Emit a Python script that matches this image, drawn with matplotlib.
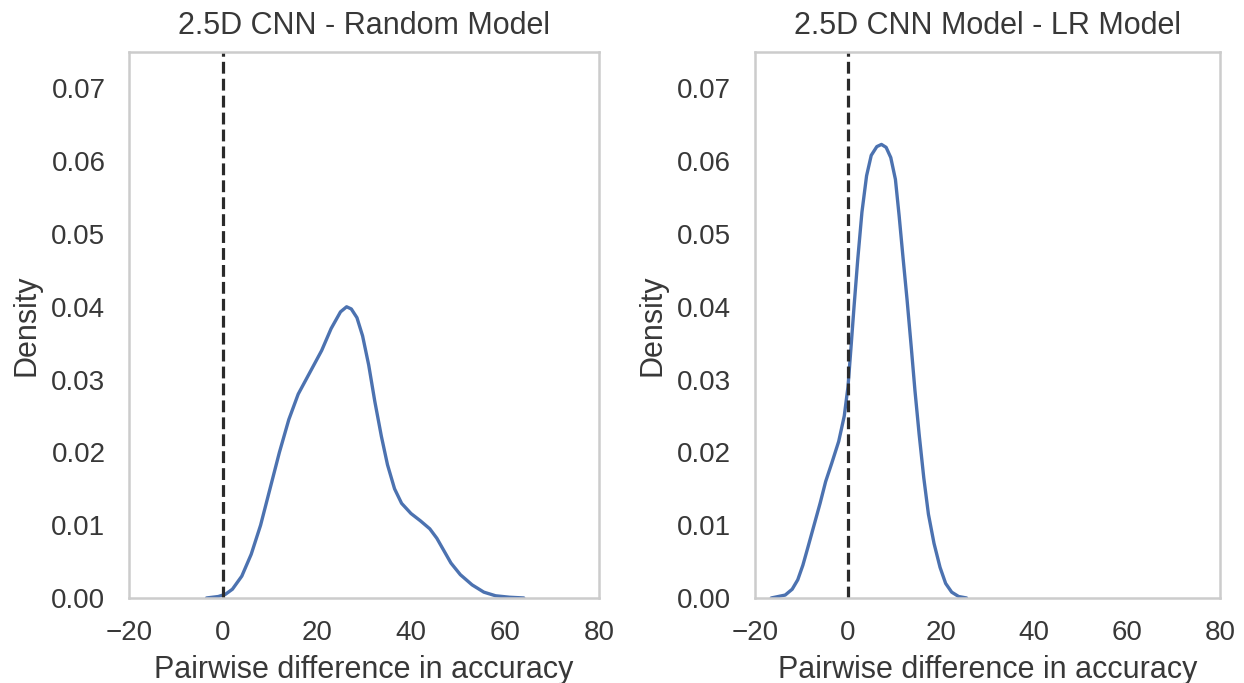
import matplotlib
matplotlib.use("Agg")
import matplotlib.pyplot as plt
import seaborn as sns

# KDE curves (x = pairwise difference, y = density)
random_x = [-3.5, -1.0, 0.5, 2.0, 4.0, 6.0, 8.0, 10.0, 12.0, 14.0, 16.0, 18.5,
            21.0, 23.0, 25.0, 26.3, 27.3, 28.5, 29.7, 31.0, 32.3, 33.7, 35.0,
            36.5, 38.0, 40.0, 42.0, 44.0, 45.5, 47.0, 48.5, 50.5, 53.0, 55.5,
            58.0, 61.0, 64.0]
random_y = [0.0000, 0.0002, 0.0005, 0.0012, 0.0030, 0.0060, 0.0100, 0.0150,
            0.0200, 0.0245, 0.0280, 0.0310, 0.0340, 0.0370, 0.0393, 0.0400,
            0.0397, 0.0385, 0.0360, 0.0320, 0.0270, 0.0222, 0.0183, 0.0150,
            0.0130, 0.0116, 0.0106, 0.0095, 0.0082, 0.0065, 0.0048, 0.0032,
            0.0018, 0.0008, 0.0003, 0.0001, 0.0000]

lr_x = [-16.5, -13.5, -12.0, -10.8, -9.7, -8.6, -7.3, -6.0, -4.8, -3.5, -2.0,
        -0.8, 0.0, 0.6, 1.3, 2.1, 3.0, 4.0, 5.0, 6.2, 7.2, 8.2, 9.2, 10.2,
        11.0, 11.8, 12.7, 13.6, 14.4, 15.3, 16.3, 17.3, 18.5, 19.8, 21.0,
        22.3, 23.8, 25.5]
lr_y = [0.0000, 0.0004, 0.0012, 0.0025, 0.0045, 0.0070, 0.0100, 0.0130, 0.0160,
        0.0185, 0.0215, 0.0250, 0.0290, 0.0340, 0.0400, 0.0465, 0.0530, 0.0580,
        0.0608, 0.0620, 0.0623, 0.0619, 0.0605, 0.0575, 0.0525, 0.0470, 0.0410,
        0.0345, 0.0285, 0.0225, 0.0165, 0.0115, 0.0075, 0.0042, 0.0020, 0.0008,
        0.0002, 0.0000]

titles = ["2.5D CNN - Random Model", "2.5D CNN Model - LR Model"]
xticks = [-20, 0, 20, 40, 60, 80]
yticks = [0.00, 0.01, 0.02, 0.03, 0.04, 0.05, 0.06, 0.07]

sns.set_style("white")
plt.rcParams['font.family'] = ['Liberation Sans', 'DejaVu Sans']
plt.rcParams['text.color'] = '.22'
plt.rcParams['axes.labelcolor'] = '.22'
plt.rcParams['xtick.color'] = '.22'
plt.rcParams['ytick.color'] = '.22'

fig = plt.figure(figsize=(12.44, 6.83), dpi=100)
ax1 = fig.add_axes([0.1037, 0.1245, 0.3778, 0.7994])
ax2 = fig.add_axes([0.6069, 0.1245, 0.3738, 0.7994])

for ax, xs, ys, title in [(ax1, random_x, random_y, titles[0]),
                          (ax2, lr_x, lr_y, titles[1])]:
    ax.plot(xs, ys, color='#4C72B0', lw=2.4, solid_joinstyle='round',
            solid_capstyle='round')
    ax.axvline(0, color='#2a2a2a', ls='--', lw=2.3)
    ax.set_xlim(-20, 80)
    ax.set_ylim(0, 0.075)
    ax.set_xticks(xticks)
    ax.set_yticks(yticks)
    ax.set_yticklabels([f"{v:.2f}" for v in yticks])
    ax.tick_params(axis='x', labelsize=20, pad=16, length=0)
    ax.tick_params(axis='y', labelsize=20, pad=17, length=0)
    ax.set_title(title, fontsize=22, pad=13)
    ax.set_xlabel("Pairwise difference in accuracy", fontsize=22, labelpad=6)
    ax.set_ylabel("Density", fontsize=22, labelpad=7)
    for s in ax.spines.values():
        s.set_color('.8')
        s.set_linewidth(1.8)

fig.savefig("out.png", dpi=100)
